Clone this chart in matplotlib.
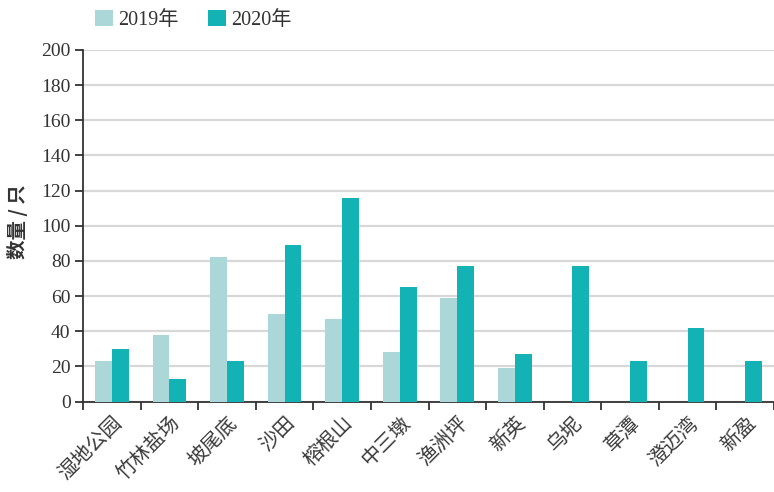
import numpy as np
import matplotlib.pyplot as plt

plt.rcParams['font.family'] = ['Liberation Serif', 'Noto Sans CJK SC']

sites = ["湿地公园", "竹林盐场", "坡尾底", "沙田", "榕根山", "中三墩",
         "渔洲坪", "新英", "乌坭", "草潭", "澄迈湾", "新盈"]
y2019 = [23, 38, 82, 50, 47, 28, 59, 19, 0, 0, 0, 0]
y2020 = [30, 13, 23, 89, 116, 65, 77, 27, 77, 23, 42, 23]

c19 = '#abd7d8'
c20 = '#13b2b5'
barW = 0.293

fig = plt.figure(figsize=(7.74, 4.92), dpi=100)
ax = fig.add_axes([83 / 774, 1 - 401.5 / 492, 1 - 83 / 774, (401.5 - 50) / 492])

x = np.arange(len(sites))
ax.bar(x - barW / 2, y2019, width=barW, color=c19, label="2019年", zorder=3)
ax.bar(x + barW / 2, y2020, width=barW, color=c20, label="2020年", zorder=3)

ax.set_xlim(-0.5, 11.43)
ax.set_ylim(0, 200)
ax.set_yticks(np.arange(0, 201, 20))
ax.yaxis.grid(True, color='#d8d8d8', linewidth=1.6, zorder=0)
ax.set_axisbelow(True)

# category boundaries as ticks, labels at band centres
ax.set_xticks(np.arange(-0.5, 12, 1))
ax.set_xticklabels([])
ax.set_xticks(x, minor=True)
ax.set_xticklabels(sites, minor=True, rotation=45, ha='right', va='top',
                   rotation_mode='anchor', fontsize=14.5, color='#3a3a3a',
                   family=['Noto Sans CJK SC'])
ax.tick_params(axis='x', which='minor', length=0, pad=8)
ax.tick_params(axis='x', which='major', length=6, width=1.3, color='#333333')
ax.tick_params(axis='y', length=6, width=1.3, color='#333333', labelsize=14,
               labelcolor='#333333', pad=3)

for s in ['top', 'right']:
    ax.spines[s].set_visible(False)
for s in ['left', 'bottom']:
    ax.spines[s].set_color('#333333')
    ax.spines[s].set_linewidth(1.3)

fig.text(18 / 774, 1 - 222 / 492, "数量 / 只", rotation=90, ha='center', va='center',
         fontsize=14, color='#333333', family=['Noto Sans CJK SC'], weight='bold')

fig.legend(loc='upper left', bbox_to_anchor=(77 / 774, 1 + 8 / 492), ncol=2,
           frameon=False, fontsize=14.5, handlelength=0.9, handleheight=0.85,
           handletextpad=0.25, columnspacing=1.45, labelcolor='#333333')

plt.savefig("out.png")
